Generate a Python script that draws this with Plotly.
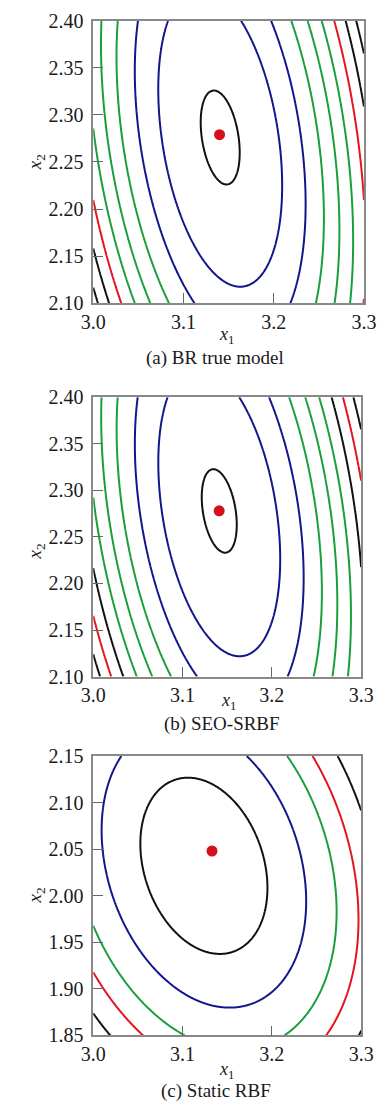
import numpy as np
import plotly.graph_objects as go

# ---------------- data ----------------
captions = ["(a) BR true model", "(b) SEO-SRBF", "(c) Static RBF"]

x_ranges = [[3.0, 3.3], [3.0, 3.3], [3.0, 3.3]]
y_ranges = [[2.10, 2.40], [2.10, 2.40], [1.85, 2.15]]

x_tickvals = [3.0, 3.1, 3.2, 3.3]
x_ticktext = ["3.0", "3.1", "3.2", "3.3"]
y_tickvals_ab = [2.10, 2.15, 2.20, 2.25, 2.30, 2.35, 2.40]
y_ticktext_ab = ["2.10", "2.15", "2.20", "2.25", "2.30", "2.35", "2.40"]
y_tickvals_c = [1.85, 1.90, 1.95, 2.00, 2.05, 2.10, 2.15]
y_ticktext_c = ["1.85", "1.90", "1.95", "2.00", "2.05", "2.10", "2.15"]

# quadratic response surface estimated from the contour shapes
center_x = [3.1407, 3.1411, 3.1239]
center_y = [2.2760, 2.2779, 2.0321]
coef_xx = [262.9, 263.0, 128.5]
coef_xy = [73.6, 76.5, 48.5]
coef_yy = [49.3, 50.3, 72.7]

levels_a = [0.11, 1.11, 2.11, 3.11, 4.11, 5.11, 6.11, 7.11, 8.11]
levels_b = [0.09, 1.09, 2.09, 3.09, 4.09, 5.09, 6.09, 7.09, 8.09]
levels_c = [0.61, 1.58, 2.66, 3.61, 4.75]

level_kind_a = ["k", "b", "b", "g", "g", "g", "r", "k", "k"]
level_kind_b = ["k", "b", "b", "g", "g", "g", "k", "r", "k"]
level_kind_c = ["k", "b", "g", "r", "k"]

optimum_x = [3.140, 3.141, 3.133]
optimum_y = [2.279, 2.278, 2.048]

# ---------------- styles ----------------
COLORS = {"k": "#111111", "b": "#13168a", "g": "#1a9e3c", "r": "#e3141e"}
LINE_W = 2
FONT = "Liberation Serif, Times New Roman, serif"
TXT = "#1a1a1a"
W, H = 390, 1115

# pixel layout of each plot area: (left, right, top, bottom)
boxes = [(86, 376, 10, 298), (86, 373, 394, 679), (86, 373, 760, 1045)]
xtitle_pos = [(229, 331), (231, 704), (229, 1081)]
caption_pos = [(216, 354), (224, 727), (217, 1102)]
ytitle_pos = [(25, 154), (25, 551), (25, 902)]

all_levels = [levels_a, levels_b, levels_c]
all_kinds = [level_kind_a, level_kind_b, level_kind_c]

fig = go.Figure()
layout = dict(
    width=W, height=H, margin=dict(l=0, r=0, t=0, b=0),
    paper_bgcolor="white", plot_bgcolor="white", showlegend=False,
    font=dict(family=FONT, size=20, color=TXT),
)
annotations = []

for i in range(3):
    sfx = "" if i == 0 else str(i + 1)
    xs = np.linspace(x_ranges[i][0], x_ranges[i][1], 301)
    ys = np.linspace(y_ranges[i][0], y_ranges[i][1], 301)
    X, Y = np.meshgrid(xs, ys)
    dx = X - center_x[i]
    dy = Y - center_y[i]
    Z = coef_xx[i] * dx ** 2 + coef_xy[i] * dx * dy + coef_yy[i] * dy ** 2

    for lev, kind in zip(all_levels[i], all_kinds[i]):
        fig.add_trace(go.Contour(
            x=xs, y=ys, z=Z, xaxis="x" + sfx, yaxis="y" + sfx,
            autocontour=False,
            contours=dict(start=lev, end=lev, size=1, coloring="none"),
            line=dict(color=COLORS[kind], width=LINE_W, smoothing=1),
            showscale=False, hoverinfo="skip",
        ))
    fig.add_trace(go.Scatter(
        x=[optimum_x[i]], y=[optimum_y[i]], mode="markers",
        xaxis="x" + sfx, yaxis="y" + sfx,
        marker=dict(size=11, color="#d5101a"), hoverinfo="skip",
    ))

    l, r, t, b = boxes[i]
    yt = (y_tickvals_ab, y_ticktext_ab) if i < 2 else (y_tickvals_c, y_ticktext_c)
    layout["xaxis" + sfx] = dict(
        domain=[l / W, r / W], range=x_ranges[i], anchor="y" + sfx,
        tickvals=x_tickvals, ticktext=x_ticktext,
        ticks="inside", ticklen=10, tickcolor="#666666", tickwidth=1,
        showline=True, mirror=True, linecolor="#888888", linewidth=1.5,
        showgrid=False, zeroline=False, fixedrange=True,
        tickfont=dict(family=FONT, size=20, color=TXT),
    )
    layout["yaxis" + sfx] = dict(
        domain=[1 - b / H, 1 - t / H], range=y_ranges[i], anchor="x" + sfx,
        tickvals=yt[0], ticktext=yt[1],
        ticks="inside", ticklen=10, tickcolor="#666666", tickwidth=1,
        showline=True, mirror=True, linecolor="#888888", linewidth=1.5,
        showgrid=False, zeroline=False, fixedrange=True,
        ticklabelstandoff=4,
        tickfont=dict(family=FONT, size=20, color=TXT),
    )
    annotations.append(dict(
        text="<i>x</i><sub>1</sub>", xref="paper", yref="paper",
        x=xtitle_pos[i][0] / W, y=1 - xtitle_pos[i][1] / H,
        xanchor="center", yanchor="middle", showarrow=False,
        font=dict(family=FONT, size=18, color=TXT),
    ))
    annotations.append(dict(
        text="<i>x</i><sub>2</sub>", xref="paper", yref="paper",
        x=ytitle_pos[i][0] / W, y=1 - ytitle_pos[i][1] / H,
        xanchor="center", yanchor="middle", showarrow=False, textangle=-90,
        font=dict(family=FONT, size=19, color=TXT),
    ))
    annotations.append(dict(
        text=captions[i], xref="paper", yref="paper",
        x=caption_pos[i][0] / W, y=1 - caption_pos[i][1] / H,
        xanchor="center", yanchor="middle", showarrow=False,
        font=dict(family=FONT, size=19, color=TXT),
    ))

layout["annotations"] = annotations
fig.update_layout(**layout)
fig.write_html("out.html")
